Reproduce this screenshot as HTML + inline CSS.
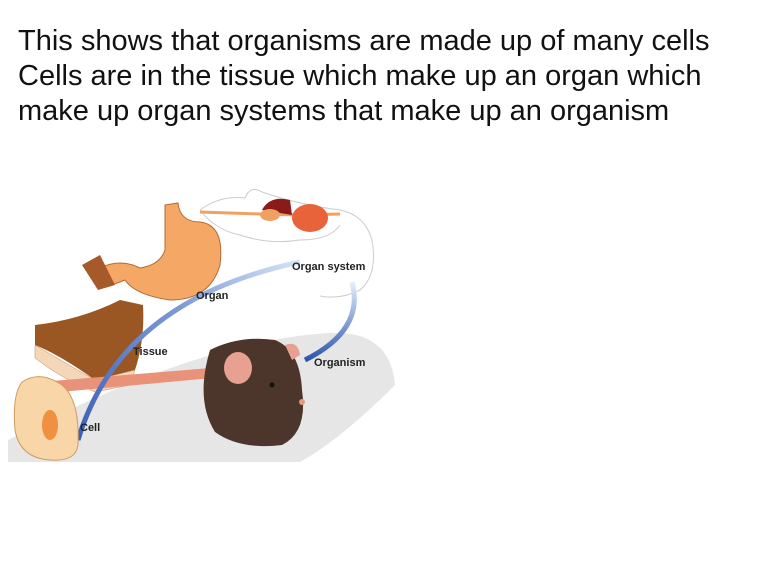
<!DOCTYPE html>
<html><head><style>
html,body{margin:0;padding:0;background:#fff;width:768px;height:561px;overflow:hidden}
.t{position:absolute;left:18px;top:24px;font-family:"Liberation Sans",sans-serif;font-size:29px;line-height:35px;color:#111;white-space:nowrap}
svg{position:absolute;left:0;top:0}
.l{font-family:"Liberation Sans",sans-serif;font-size:11px;font-weight:bold;fill:#222}
</style></head><body>
<div class="t">This shows that organisms are made up of many cells<br>Cells are in the tissue which make up an organ which<br>make up organ systems that make up an organism</div>
<svg width="768" height="561" viewBox="0 0 768 561">
<defs>
<linearGradient id="b1" x1="0" y1="1" x2="1" y2="0"><stop offset="0" stop-color="#3b5fb5"/><stop offset="0.6" stop-color="#7d9ad6"/><stop offset="1" stop-color="#d6e4f5"/></linearGradient>
<linearGradient id="b2" x1="0" y1="0" x2="0" y2="1"><stop offset="0" stop-color="#e4f0fa"/><stop offset="1" stop-color="#2d55b0"/></linearGradient>
</defs>
<path d="M8,462 L300,462 Q340,440 395,385 Q390,330 330,333 Q200,340 8,440 Z" fill="#e6e6e6"/>
<path d="M200,210 Q220,195 245,198 Q250,185 262,192 Q300,205 340,210 Q365,215 372,240 Q378,275 360,290 Q340,300 320,296" fill="none" stroke="#ccc" stroke-width="1"/>
<path d="M200,210 Q215,230 240,235 Q270,245 300,240 Q330,240 340,225" fill="#fff" stroke="#ccc" stroke-width="1"/>
<path d="M200,212 L260,214 L300,215 L340,214" stroke="#f0a060" stroke-width="3" fill="none"/>
<path d="M262,210 Q270,195 290,200 L292,215 Z" fill="#8b1a1a"/>
<ellipse cx="270" cy="215" rx="10" ry="6" fill="#f0a060"/>
<ellipse cx="310" cy="218" rx="18" ry="14" fill="#e8633a"/>
<path d="M165,205 L178,203 Q180,222 200,222 Q225,225 220,265 Q210,300 170,300 Q135,295 125,280 L112,285 L100,268 Q120,258 140,268 Q160,265 165,250 Z" fill="#f5a765" stroke="#b46a30" stroke-width="1"/>
<path d="M82,265 L100,255 L115,285 L98,290 Z" fill="#a65a2a"/>
<path d="M35,325 Q80,320 120,300 L143,305 Q145,340 135,370 L95,380 Q60,355 35,345 Z" fill="#9b5723"/>
<path d="M35,345 Q60,360 95,380 L135,370 L130,385 L95,392 Q60,378 35,358 Z" fill="#f4d6b8" stroke="#c08a60" stroke-width="0.5"/>
<path d="M40,382 L210,368 L212,378 L60,392 Z" fill="#e8927a"/>
<path d="M78,440 Q120,300 300,262" fill="none" stroke="url(#b1)" stroke-width="5"/>
<path d="M352,282 Q365,330 305,360" fill="none" stroke="url(#b2)" stroke-width="5"/>
<path d="M22,382 Q40,370 62,385 Q80,400 78,445 Q76,462 50,460 Q20,458 15,430 Q12,395 22,382 Z" fill="#f9d6a8" stroke="#d09a60" stroke-width="1"/>
<ellipse cx="50" cy="425" rx="8" ry="15" fill="#f09040"/>
<path d="M210,350 Q240,335 275,340 Q300,350 302,390 Q308,432 282,445 Q240,450 215,432 Q195,400 210,350 Z" fill="#4c362b"/>
<ellipse cx="238" cy="368" rx="14" ry="16" fill="#e8a090"/>
<path d="M285,345 Q298,340 300,355 L292,360 Z" fill="#e8a090"/>
<circle cx="302" cy="402" r="3" fill="#e89880"/>
<circle cx="272" cy="385" r="2.5" fill="#111"/>
<text class="l" x="80" y="431">Cell</text>
<text class="l" x="133" y="355">Tissue</text>
<text class="l" x="196" y="299">Organ</text>
<text class="l" x="292" y="270">Organ system</text>
<text class="l" x="314" y="366">Organism</text>
</svg>
</body></html>
